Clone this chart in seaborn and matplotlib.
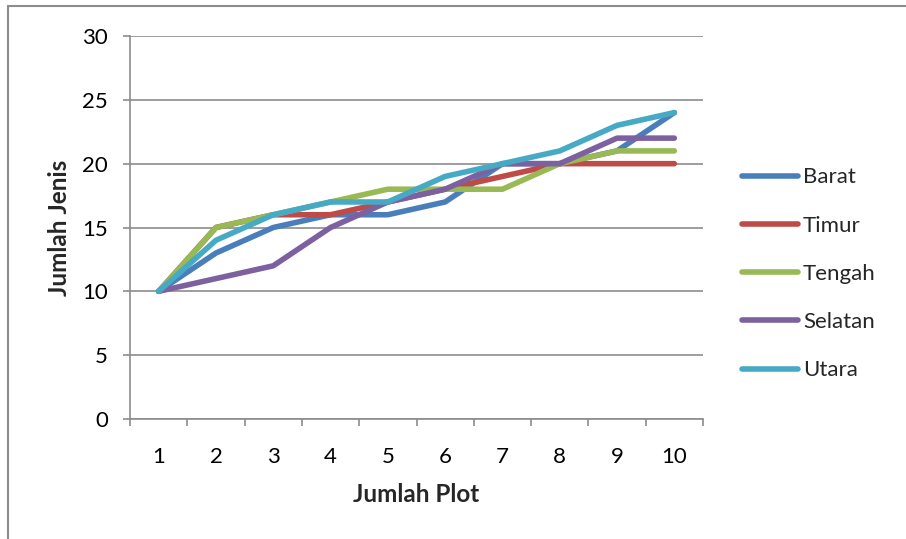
import matplotlib
matplotlib.use("Agg")
import matplotlib.pyplot as plt
import seaborn as sns
import pandas as pd
from matplotlib.patches import Rectangle
from matplotlib.ticker import MultipleLocator, FixedLocator

plots = [1, 2, 3, 4, 5, 6, 7, 8, 9, 10]
barat = [10, 13, 15, 16, 16, 17, 20, 20, 21, 24]
timur = [10, 15, 16, 16, 17, 18, 19, 20, 20, 20]
tengah = [10, 15, 16, 17, 18, 18, 18, 20, 21, 21]
selatan = [10, 11, 12, 15, 17, 18, 20, 20, 22, 22]
utara = [10, 14, 16, 17, 17, 19, 20, 21, 23, 24]
series_names = ["Barat", "Timur", "Tengah", "Selatan", "Utara"]
colors = ["#4A7EBB", "#BE4B48", "#98B954", "#7D60A0", "#46AAC5"]

rows = []
for name, vals in zip(series_names, [barat, timur, tengah, selatan, utara]):
    for p, v in zip(plots, vals):
        rows.append({"Plot": p, "Jenis": v, "Seri": name})
df = pd.DataFrame(rows)

sns.set_theme(style="white")
plt.rcParams["font.family"] = ["Lato", "DejaVu Sans"]

fig = plt.figure(figsize=(9.06, 5.39), dpi=100)
ax = fig.add_axes([130 / 906, 1 - 419 / 539, (703 - 130) / 906, (419 - 36) / 539])

sns.lineplot(data=df, x="Plot", y="Jenis", hue="Seri", hue_order=series_names,
             palette=colors, linewidth=4.0, ax=ax, legend=True,
             solid_capstyle="round", solid_joinstyle="round")

ax.set_xlim(0.5, 10.5)
ax.set_ylim(0, 30)
ax.yaxis.set_major_locator(MultipleLocator(5))
ax.grid(axis="y", color="#8C8C8C", linewidth=1.2)
ax.grid(axis="x", visible=False)
ax.set_axisbelow(True)

# Category-style x axis: ticks at boundaries, labels at centres
ax.xaxis.set_major_locator(FixedLocator([i + 0.5 for i in range(0, 11)]))
ax.xaxis.set_minor_locator(FixedLocator(plots))
ax.set_xticklabels([])
ax.set_xticklabels([str(p) for p in plots], minor=True)
ax.tick_params(axis="x", which="major", direction="out", length=5, width=1.2,
               color="#8C8C8C", bottom=True)
ax.tick_params(axis="x", which="minor", length=0, labelsize=16, pad=20, colors="black")
ax.tick_params(axis="y", direction="out", length=5, width=1.2, color="#8C8C8C",
               left=True, labelsize=16, pad=11, labelcolor="black")

for s in ["top", "right"]:
    ax.spines[s].set_visible(False)
for s in ["left", "bottom"]:
    ax.spines[s].set_color("#8C8C8C")
    ax.spines[s].set_linewidth(1.2)

ax.set_xlabel("Jumlah Plot", fontsize=17.5, fontweight="bold", labelpad=12)
ax.set_ylabel("Jumlah Jenis", fontsize=17.5, fontweight="bold", labelpad=8)

leg = ax.legend(loc="center left", bbox_to_anchor=(1.068, 0.379), frameon=False,
                fontsize=16, handlelength=2.52, handletextpad=0.22, labelspacing=1.27,
                borderpad=0, borderaxespad=0)
for line in leg.get_lines():
    line.set_linewidth(4.0)
    line.set_solid_capstyle("round")

fig.patches.append(Rectangle((8 / 906, -0.1), 1.2, 1.1 - 6 / 539,
                             transform=fig.transFigure, fill=False,
                             edgecolor="#8C8C8C", linewidth=1.5))

fig.savefig("out.png", dpi=100)
